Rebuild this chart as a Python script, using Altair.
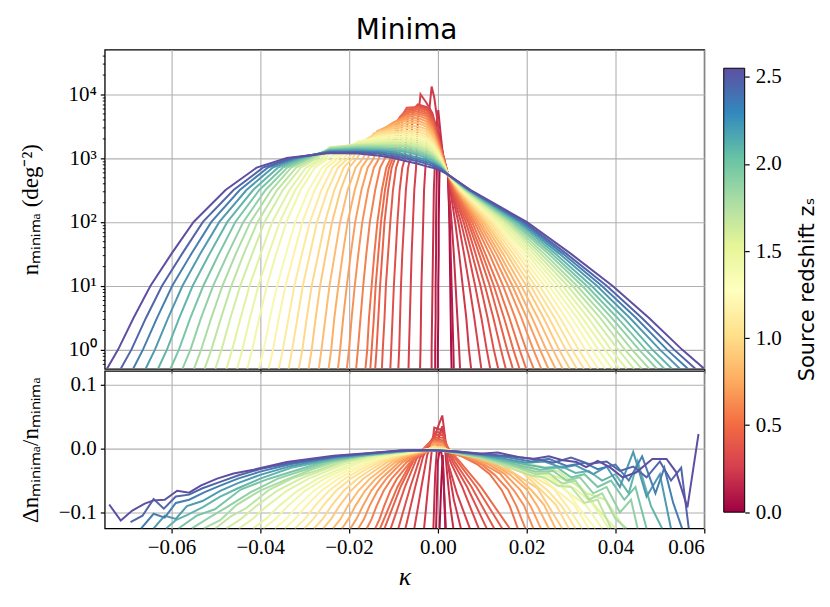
import altair as alt
import pandas as pd

# ---------------- data ----------------
# source redshift of each curve
Z = [2.55, 2.45, 2.34, 2.21, 2.08, 1.98, 1.88, 1.78, 1.69, 1.60, 1.52, 1.44, 1.37, 1.30,
     1.22, 1.14, 1.07, 1.00, 0.92, 0.85, 0.78, 0.71, 0.65, 0.58, 0.52, 0.48, 0.44, 0.40,
     0.36, 0.32, 0.28, 0.24, 0.20, 0.12, 0.05]

# top panel: log10(n) levels crossed on the rising (left) flank, and kappa of each crossing
TOP_LEFT_LEVELS = [-0.3, 0.0, 0.5, 1.0, 1.5, 2.0, 2.5, 2.85]
TOP_LEFT_K = [
    [-0.0745, -0.0720, -0.0685, -0.0647, -0.0600, -0.0550, -0.0478, -0.0408],
    [-0.0714, -0.0690, -0.0657, -0.0621, -0.0576, -0.0529, -0.0460, -0.0394],
    [-0.0686, -0.0664, -0.0632, -0.0598, -0.0555, -0.0510, -0.0446, -0.0383],
    [-0.0658, -0.0637, -0.0607, -0.0575, -0.0535, -0.0492, -0.0431, -0.0372],
    [-0.0630, -0.0610, -0.0582, -0.0552, -0.0514, -0.0474, -0.0416, -0.0360],
    [-0.0602, -0.0583, -0.0557, -0.0528, -0.0493, -0.0456, -0.0402, -0.0349],
    [-0.0575, -0.0557, -0.0533, -0.0506, -0.0473, -0.0438, -0.0388, -0.0339],
    [-0.0549, -0.0533, -0.0510, -0.0485, -0.0455, -0.0422, -0.0375, -0.0330],
    [-0.0525, -0.0510, -0.0488, -0.0465, -0.0437, -0.0406, -0.0362, -0.0319],
    [-0.0501, -0.0487, -0.0467, -0.0445, -0.0418, -0.0390, -0.0349, -0.0309],
    [-0.0476, -0.0463, -0.0444, -0.0424, -0.0399, -0.0373, -0.0334, -0.0297],
    [-0.0452, -0.0440, -0.0423, -0.0404, -0.0381, -0.0356, -0.0321, -0.0287],
    [-0.0429, -0.0418, -0.0402, -0.0385, -0.0364, -0.0341, -0.0309, -0.0277],
    [-0.0403, -0.0392, -0.0378, -0.0362, -0.0342, -0.0321, -0.0291, -0.0261],
    [-0.0381, -0.0371, -0.0358, -0.0343, -0.0324, -0.0305, -0.0277, -0.0250],
    [-0.0358, -0.0349, -0.0336, -0.0323, -0.0306, -0.0288, -0.0262, -0.0237],
    [-0.0336, -0.0328, -0.0316, -0.0304, -0.0288, -0.0272, -0.0248, -0.0225],
    [-0.0313, -0.0305, -0.0295, -0.0284, -0.0269, -0.0254, -0.0233, -0.0212],
    [-0.0291, -0.0284, -0.0275, -0.0265, -0.0252, -0.0238, -0.0219, -0.0200],
    [-0.0268, -0.0262, -0.0253, -0.0244, -0.0232, -0.0220, -0.0203, -0.0185],
    [-0.0246, -0.0240, -0.0233, -0.0224, -0.0214, -0.0203, -0.0187, -0.0172],
    [-0.0225, -0.0220, -0.0213, -0.0205, -0.0196, -0.0186, -0.0172, -0.0158],
    [-0.0205, -0.0200, -0.0194, -0.0187, -0.0179, -0.0170, -0.0157, -0.0144],
    [-0.0184, -0.0180, -0.0174, -0.0168, -0.0161, -0.0153, -0.0141, -0.0130],
    [-0.0163, -0.0159, -0.0155, -0.0149, -0.0143, -0.0136, -0.0126, -0.0116],
    [-0.0152, -0.0149, -0.0144, -0.0140, -0.0134, -0.0128, -0.0119, -0.0110],
    [-0.0141, -0.0138, -0.0134, -0.0130, -0.0125, -0.0120, -0.0112, -0.0104],
    [-0.0126, -0.0124, -0.0120, -0.0117, -0.0112, -0.0107, -0.0101, -0.0094],
    [-0.0107, -0.0105, -0.0102, -0.0099, -0.0095, -0.0091, -0.0086, -0.0080],
    [-0.0089, -0.0087, -0.0085, -0.0083, -0.0080, -0.0076, -0.0072, -0.0067],
    [-0.0066, -0.0065, -0.0063, -0.0061, -0.0059, -0.0056, -0.0053, -0.0049],
    [-0.0040, -0.0039, -0.0038, -0.0037, -0.0035, -0.0033, -0.0031, -0.0028],
    [-0.0014, -0.0014, -0.0013, -0.0012, -0.0011, -0.0010, -0.0009, -0.0007],
    [-0.0006, -0.0006, -0.0005, -0.0005, -0.0004, -0.0004, -0.0003, -0.0002],
    [0.0000, 0.0000, 0.0001, 0.0001, 0.0002, 0.0002, 0.0003, 0.0004],
]

# top panel: upper part of each curve (kappa, log10 n), ending at the common crossing point
TOP_UP_K = [
    [-0.0340, -0.0243, -0.0180, -0.0135, -0.0100, -0.0070, -0.0045, -0.0025, -0.0012, 0.0004, 0.0023],
    [-0.0329, -0.0243, -0.0180, -0.0135, -0.0100, -0.0070, -0.0045, -0.0025, -0.0012, 0.0004, 0.0023],
    [-0.0322, -0.0243, -0.0180, -0.0135, -0.0100, -0.0070, -0.0045, -0.0025, -0.0012, 0.0004, 0.0023],
    [-0.0314, -0.0243, -0.0180, -0.0135, -0.0100, -0.0070, -0.0045, -0.0025, -0.0012, 0.0004, 0.0023],
    [-0.0306, -0.0243, -0.0180, -0.0135, -0.0100, -0.0070, -0.0045, -0.0025, -0.0012, 0.0004, 0.0023],
    [-0.0298, -0.0243, -0.0180, -0.0135, -0.0100, -0.0070, -0.0045, -0.0025, -0.0012, 0.0004, 0.0023],
    [-0.0291, -0.0243, -0.0180, -0.0135, -0.0100, -0.0070, -0.0045, -0.0025, -0.0012, 0.0004, 0.0023],
    [-0.0286, -0.0243, -0.0180, -0.0135, -0.0100, -0.0070, -0.0045, -0.0025, -0.0012, 0.0004, 0.0023],
    [-0.0278, -0.0243, -0.0180, -0.0135, -0.0100, -0.0070, -0.0045, -0.0025, -0.0012, 0.0004, 0.0023],
    [-0.0271, -0.0243, -0.0180, -0.0135, -0.0100, -0.0070, -0.0045, -0.0025, -0.0012, 0.0004, 0.0023],
    [-0.0261, -0.0243, -0.0180, -0.0135, -0.0100, -0.0070, -0.0045, -0.0025, -0.0012, 0.0004, 0.0023],
    [-0.0254, -0.0243, -0.0180, -0.0135, -0.0100, -0.0070, -0.0045, -0.0025, -0.0012, 0.0004, 0.0023],
    [-0.0246, -0.0180, -0.0135, -0.0100, -0.0070, -0.0045, -0.0025, -0.0012, 0.0004, 0.0023],
    [-0.0232, -0.0180, -0.0135, -0.0100, -0.0070, -0.0045, -0.0025, -0.0012, 0.0004, 0.0023],
    [-0.0223, -0.0180, -0.0135, -0.0100, -0.0070, -0.0045, -0.0025, -0.0012, 0.0004, 0.0023],
    [-0.0212, -0.0180, -0.0135, -0.0100, -0.0070, -0.0045, -0.0025, -0.0012, 0.0004, 0.0023],
    [-0.0202, -0.0180, -0.0135, -0.0100, -0.0070, -0.0045, -0.0025, -0.0012, 0.0004, 0.0023],
    [-0.0192, -0.0165, -0.0135, -0.0100, -0.0070, -0.0045, -0.0025, -0.0012, 0.0004, 0.0023],
    [-0.0182, -0.0155, -0.0135, -0.0100, -0.0070, -0.0045, -0.0025, -0.0012, 0.0004, 0.0023],
    [-0.0168, -0.0145, -0.0100, -0.0070, -0.0045, -0.0025, -0.0012, 0.0004, 0.0023],
    [-0.0157, -0.0137, -0.0100, -0.0070, -0.0045, -0.0025, -0.0012, 0.0004, 0.0023],
    [-0.0144, -0.0126, -0.0100, -0.0070, -0.0045, -0.0025, -0.0012, 0.0004, 0.0023],
    [-0.0132, -0.0116, -0.0100, -0.0070, -0.0045, -0.0025, -0.0012, 0.0004, 0.0023],
    [-0.0119, -0.0105, -0.0070, -0.0045, -0.0025, -0.0012, 0.0004, 0.0023],
    [-0.0106, -0.0094, -0.0070, -0.0045, -0.0025, -0.0012, 0.0004, 0.0023],
    [-0.0101, -0.0090, -0.0070, -0.0045, -0.0025, -0.0012, 0.0004, 0.0023],
    [-0.0096, -0.0086, -0.0070, -0.0045, -0.0025, -0.0012, 0.0004, 0.0023],
    [-0.0087, -0.0079, -0.0070, -0.0045, -0.0025, -0.0012, 0.0004, 0.0023],
    [-0.0074, -0.0067, -0.0045, -0.0025, -0.0012, 0.0004, 0.0023],
    [-0.0062, -0.0056, -0.0045, -0.0025, -0.0012, 0.0004, 0.0023],
    [-0.0045, -0.0039, -0.0025, -0.0012, 0.0004, 0.0023],
    [-0.0022, -0.0014, -0.0008, 0.0004, 0.0013, 0.0023],
    [-0.0003, 0.0001, 0.0006, 0.0013, 0.0023],
    [0.0002, 0.0008, 0.0015, 0.0023],
    [0.0008, 0.0015, 0.0023],
]
TOP_UP_V = [
    [3.00, 3.08, 3.07, 3.04, 3.00, 2.95, 2.91, 2.87, 2.85, 2.81, 2.74],
    [3.00, 3.09, 3.09, 3.07, 3.03, 2.99, 2.95, 2.91, 2.88, 2.83, 2.74],
    [3.00, 3.10, 3.10, 3.09, 3.06, 3.02, 2.98, 2.94, 2.91, 2.85, 2.74],
    [3.00, 3.11, 3.12, 3.11, 3.09, 3.05, 3.01, 2.97, 2.93, 2.86, 2.74],
    [3.00, 3.12, 3.14, 3.13, 3.12, 3.09, 3.05, 3.00, 2.96, 2.88, 2.74],
    [3.00, 3.13, 3.15, 3.15, 3.14, 3.12, 3.08, 3.03, 2.98, 2.89, 2.74],
    [3.00, 3.14, 3.17, 3.17, 3.16, 3.15, 3.11, 3.06, 3.01, 2.91, 2.74],
    [3.00, 3.15, 3.18, 3.19, 3.19, 3.18, 3.14, 3.09, 3.03, 2.92, 2.74],
    [3.00, 3.16, 3.20, 3.21, 3.21, 3.20, 3.17, 3.12, 3.06, 2.94, 2.74],
    [3.00, 3.17, 3.21, 3.23, 3.24, 3.23, 3.20, 3.15, 3.08, 2.95, 2.74],
    [3.00, 3.15, 3.22, 3.25, 3.26, 3.26, 3.23, 3.18, 3.11, 2.97, 2.74],
    [3.00, 3.08, 3.24, 3.27, 3.28, 3.28, 3.26, 3.21, 3.13, 2.98, 2.74],
    [3.00, 3.25, 3.29, 3.31, 3.31, 3.29, 3.24, 3.16, 3.00, 2.74],
    [3.00, 3.26, 3.31, 3.33, 3.34, 3.32, 3.27, 3.18, 3.01, 2.74],
    [3.00, 3.25, 3.33, 3.36, 3.37, 3.35, 3.30, 3.21, 3.03, 2.74],
    [3.00, 3.22, 3.35, 3.38, 3.40, 3.38, 3.33, 3.24, 3.04, 2.74],
    [3.00, 3.17, 3.37, 3.41, 3.43, 3.42, 3.37, 3.27, 3.06, 2.74],
    [3.00, 3.28, 3.39, 3.44, 3.47, 3.46, 3.41, 3.30, 3.07, 2.74],
    [3.00, 3.32, 3.41, 3.47, 3.51, 3.50, 3.45, 3.33, 3.09, 2.74],
    [3.00, 3.38, 3.50, 3.55, 3.55, 3.49, 3.37, 3.10, 2.74],
    [3.00, 3.42, 3.53, 3.59, 3.59, 3.53, 3.40, 3.12, 2.74],
    [3.00, 3.45, 3.55, 3.62, 3.63, 3.57, 3.43, 3.13, 2.74],
    [3.00, 3.48, 3.56, 3.65, 3.67, 3.61, 3.46, 3.15, 2.74],
    [3.00, 3.52, 3.68, 3.70, 3.65, 3.49, 3.16, 2.74],
    [3.00, 3.56, 3.71, 3.73, 3.68, 3.52, 3.18, 2.74],
    [3.00, 3.60, 3.73, 3.76, 3.71, 3.55, 3.19, 2.74],
    [3.00, 3.64, 3.76, 3.79, 3.74, 3.58, 3.21, 2.74],
    [3.00, 3.68, 3.79, 3.80, 3.76, 3.60, 3.22, 2.74],
    [3.00, 3.72, 3.82, 3.78, 3.63, 3.24, 2.74],
    [3.00, 3.76, 3.84, 3.80, 3.66, 3.26, 2.74],
    [3.60, 4.00, 3.86, 3.70, 3.28, 2.74],
    [3.55, 4.12, 3.95, 3.32, 2.95, 2.74],
    [3.55, 3.75, 3.40, 2.95, 2.74],
    [3.40, 3.20, 2.90, 2.72],
    [3.05, 2.85, 2.72],
]

# top panel: log10(n) levels crossed on the falling (right) flank, and kappa of each crossing
TOP_RIGHT_LEVELS = [2.5, 2.0, 1.5, 1.0, 0.5, 0.0, -0.3]
TOP_RIGHT_K = [
    [0.0074, 0.0200, 0.0300, 0.0393, 0.0475, 0.0550, 0.0600],
    [0.0072, 0.0194, 0.0290, 0.0380, 0.0459, 0.0532, 0.0580],
    [0.0071, 0.0189, 0.0282, 0.0369, 0.0446, 0.0516, 0.0563],
    [0.0069, 0.0183, 0.0274, 0.0358, 0.0432, 0.0500, 0.0545],
    [0.0068, 0.0178, 0.0265, 0.0346, 0.0418, 0.0483, 0.0527],
    [0.0066, 0.0172, 0.0257, 0.0335, 0.0404, 0.0468, 0.0510],
    [0.0065, 0.0167, 0.0249, 0.0325, 0.0391, 0.0453, 0.0493],
    [0.0063, 0.0162, 0.0240, 0.0313, 0.0378, 0.0437, 0.0476],
    [0.0062, 0.0157, 0.0232, 0.0303, 0.0365, 0.0421, 0.0459],
    [0.0060, 0.0152, 0.0224, 0.0292, 0.0351, 0.0406, 0.0442],
    [0.0059, 0.0146, 0.0216, 0.0281, 0.0338, 0.0390, 0.0425],
    [0.0057, 0.0141, 0.0208, 0.0271, 0.0325, 0.0376, 0.0409],
    [0.0056, 0.0136, 0.0201, 0.0260, 0.0313, 0.0361, 0.0393],
    [0.0054, 0.0132, 0.0193, 0.0250, 0.0301, 0.0347, 0.0377],
    [0.0053, 0.0127, 0.0185, 0.0240, 0.0288, 0.0332, 0.0361],
    [0.0051, 0.0122, 0.0178, 0.0229, 0.0275, 0.0317, 0.0345],
    [0.0050, 0.0117, 0.0170, 0.0219, 0.0263, 0.0302, 0.0329],
    [0.0049, 0.0112, 0.0162, 0.0209, 0.0250, 0.0288, 0.0313],
    [0.0047, 0.0107, 0.0155, 0.0199, 0.0238, 0.0273, 0.0297],
    [0.0046, 0.0102, 0.0147, 0.0188, 0.0225, 0.0259, 0.0281],
    [0.0044, 0.0097, 0.0139, 0.0178, 0.0212, 0.0244, 0.0265],
    [0.0043, 0.0092, 0.0132, 0.0168, 0.0200, 0.0230, 0.0249],
    [0.0042, 0.0087, 0.0124, 0.0158, 0.0188, 0.0215, 0.0233],
    [0.0040, 0.0082, 0.0116, 0.0147, 0.0174, 0.0199, 0.0216],
    [0.0039, 0.0077, 0.0107, 0.0136, 0.0161, 0.0184, 0.0199],
    [0.0037, 0.0072, 0.0100, 0.0126, 0.0149, 0.0170, 0.0184],
    [0.0036, 0.0068, 0.0093, 0.0117, 0.0137, 0.0156, 0.0169],
    [0.0034, 0.0063, 0.0085, 0.0106, 0.0125, 0.0142, 0.0153],
    [0.0033, 0.0058, 0.0077, 0.0096, 0.0112, 0.0126, 0.0136],
    [0.0031, 0.0052, 0.0069, 0.0084, 0.0098, 0.0110, 0.0118],
    [0.0030, 0.0046, 0.0059, 0.0071, 0.0082, 0.0092, 0.0098],
    [0.0028, 0.0039, 0.0048, 0.0056, 0.0064, 0.0070, 0.0075],
    [0.0025, 0.0031, 0.0036, 0.0040, 0.0044, 0.0048, 0.0050],
    [0.0024, 0.0027, 0.0029, 0.0031, 0.0033, 0.0035, 0.0036],
    [0.0024, 0.0026, 0.0027, 0.0028, 0.0029, 0.0030, 0.0031],
]

# bottom panel: relative difference curves (kappa, value)
BOT_K = [
    [-0.0740, -0.0714, -0.0688, -0.0660, -0.0640, -0.0615, -0.0587, -0.0560, -0.0534, -0.0497, -0.0460, -0.0415,
     -0.0340, -0.0235, -0.0160, -0.0085, -0.0018, 0.0034, 0.0094, 0.0135, 0.0184, 0.0214, 0.0250, 0.0281, 0.0312,
     0.0334, 0.0360, 0.0387, 0.0416, 0.0447, 0.0483, 0.0515, 0.0537, 0.0562, 0.0587],
    [-0.0692, -0.0665, -0.0640, -0.0617, -0.0590, -0.0560, -0.0530, -0.0490, -0.0450, -0.0400, -0.0330, -0.0230,
     -0.0150, -0.0080, -0.0020, 0.0040, 0.0100, 0.0160, 0.0220, 0.0260, 0.0300, 0.0340, 0.0380, 0.0410, 0.0440,
     0.0470, 0.0500, 0.0525, 0.0548, 0.0565],
    [-0.0668, -0.0640, -0.0615, -0.0590, -0.0560, -0.0525, -0.0490, -0.0450, -0.0400, -0.0330, -0.0230, -0.0150,
     -0.0080, -0.0020, 0.0040, 0.0100, 0.0160, 0.0210, 0.0250, 0.0290, 0.0330, 0.0360, 0.0400, 0.0430, 0.0460,
     0.0490, 0.0510, 0.0530, 0.0550],
    [-0.0640, -0.0615, -0.0590, -0.0565, -0.0530, -0.0490, -0.0450, -0.0400, -0.0330, -0.0230, -0.0150, -0.0080,
     -0.0020, 0.0040, 0.0100, 0.0150, 0.0200, 0.0240, 0.0280, 0.0310, 0.0350, 0.0380, 0.0410, 0.0440, 0.0470,
     0.0500, 0.0525],
    [-0.0612, -0.0590, -0.0565, -0.0530, -0.0490, -0.0450, -0.0400, -0.0330, -0.0230, -0.0150, -0.0080, -0.0020,
     0.0040, 0.0100, 0.0150, 0.0200, 0.0240, 0.0280, 0.0310, 0.0340, 0.0370, 0.0400, 0.0430, 0.0450, 0.0480, 0.0505],
    [-0.0584, -0.0543, -0.0502, -0.0444, -0.0380, -0.0315, -0.0257, -0.0181, -0.0123, -0.0064, 0.0000, 0.0040,
     0.0100, 0.0150, 0.0190, 0.0230, 0.0270, 0.0300, 0.0330, 0.0360, 0.0390, 0.0420, 0.0445, 0.0470],
    [-0.0554, -0.0515, -0.0476, -0.0421, -0.0360, -0.0299, -0.0244, -0.0172, -0.0116, -0.0061, 0.0000, 0.0040,
     0.0100, 0.0140, 0.0180, 0.0220, 0.0260, 0.0290, 0.0320, 0.0350, 0.0380, 0.0410, 0.0435, 0.0450],
    [-0.0527, -0.0490, -0.0453, -0.0401, -0.0343, -0.0285, -0.0232, -0.0163, -0.0111, -0.0058, 0.0000, 0.0040,
     0.0090, 0.0140, 0.0180, 0.0220, 0.0250, 0.0280, 0.0310, 0.0340, 0.0370, 0.0400, 0.0425],
    [-0.0501, -0.0466, -0.0431, -0.0381, -0.0326, -0.0271, -0.0220, -0.0155, -0.0105, -0.0055, 0.0000, 0.0040,
     0.0090, 0.0130, 0.0170, 0.0210, 0.0240, 0.0270, 0.0300, 0.0330, 0.0360, 0.0390],
    [-0.0476, -0.0443, -0.0409, -0.0362, -0.0309, -0.0257, -0.0209, -0.0148, -0.0100, -0.0052, 0.0000, 0.0042,
     0.0126, 0.0210, 0.0273, 0.0336, 0.0378, 0.0420],
    [-0.0448, -0.0417, -0.0385, -0.0340, -0.0291, -0.0242, -0.0197, -0.0139, -0.0094, -0.0049, 0.0000, 0.0040,
     0.0120, 0.0200, 0.0260, 0.0320, 0.0360, 0.0400],
    [-0.0416, -0.0387, -0.0358, -0.0316, -0.0270, -0.0225, -0.0183, -0.0129, -0.0087, -0.0046, -0.0010, 0.0010,
     0.0039, 0.0116, 0.0193, 0.0250, 0.0308, 0.0347, 0.0385],
    [-0.0393, -0.0365, -0.0338, -0.0299, -0.0255, -0.0212, -0.0173, -0.0122, -0.0083, -0.0043, -0.0010, 0.0010,
     0.0037, 0.0111, 0.0185, 0.0241, 0.0296, 0.0333, 0.0370],
    [-0.0367, -0.0341, -0.0316, -0.0279, -0.0239, -0.0198, -0.0161, -0.0114, -0.0077, -0.0040, -0.0010, 0.0010,
     0.0036, 0.0107, 0.0178, 0.0231, 0.0284, 0.0320, 0.0355],
    [-0.0345, -0.0321, -0.0297, -0.0262, -0.0224, -0.0186, -0.0152, -0.0107, -0.0072, -0.0038, -0.0010, 0.0010,
     0.0034, 0.0102, 0.0170, 0.0221, 0.0272, 0.0306, 0.0340],
    [-0.0322, -0.0299, -0.0277, -0.0245, -0.0209, -0.0174, -0.0142, -0.0100, -0.0068, -0.0035, -0.0010, 0.0010,
     0.0033, 0.0098, 0.0163, 0.0211, 0.0260, 0.0293, 0.0325],
    [-0.0301, -0.0280, -0.0259, -0.0229, -0.0196, -0.0163, -0.0132, -0.0093, -0.0063, -0.0033, -0.0010, 0.0010,
     0.0031, 0.0093, 0.0155, 0.0202, 0.0248, 0.0279, 0.0310],
    [-0.0279, -0.0259, -0.0240, -0.0212, -0.0181, -0.0151, -0.0123, -0.0086, -0.0059, -0.0031, -0.0010, 0.0010,
     0.0030, 0.0089, 0.0148, 0.0192, 0.0236, 0.0266, 0.0295],
    [-0.0258, -0.0240, -0.0222, -0.0196, -0.0168, -0.0139, -0.0114, -0.0080, -0.0054, -0.0028, -0.0010, 0.0010,
     0.0028, 0.0084, 0.0140, 0.0182, 0.0224, 0.0252, 0.0280],
    [-0.0236, -0.0219, -0.0203, -0.0179, -0.0153, -0.0127, -0.0104, -0.0073, -0.0050, -0.0026, -0.0010, 0.0010,
     0.0027, 0.0080, 0.0133, 0.0172, 0.0212, 0.0239, 0.0265],
    [-0.0216, -0.0201, -0.0186, -0.0164, -0.0140, -0.0117, -0.0095, -0.0067, -0.0045, -0.0024, -0.0010, 0.0010,
     0.0025, 0.0075, 0.0125, 0.0163, 0.0200, 0.0225, 0.0250],
    [-0.0197, -0.0183, -0.0169, -0.0150, -0.0128, -0.0106, -0.0087, -0.0061, -0.0041, -0.0022, -0.0010, 0.0010,
     0.0023, 0.0070, 0.0116, 0.0151, 0.0186, 0.0209, 0.0232],
    [-0.0179, -0.0166, -0.0154, -0.0136, -0.0116, -0.0097, -0.0079, -0.0055, -0.0038, -0.0020, -0.0010, 0.0010,
     0.0022, 0.0065, 0.0108, 0.0140, 0.0172, 0.0194, 0.0215],
    [-0.0160, -0.0149, -0.0138, -0.0122, -0.0104, -0.0086, -0.0070, -0.0050, -0.0034, -0.0018, -0.0008, 0.0010,
     0.0020, 0.0059, 0.0099, 0.0128, 0.0158, 0.0177, 0.0197],
    [-0.0141, -0.0131, -0.0121, -0.0107, -0.0092, -0.0076, -0.0062, -0.0044, -0.0030, -0.0016, -0.0007, 0.0010,
     0.0018, 0.0054, 0.0090, 0.0117, 0.0144, 0.0162, 0.0180],
    [-0.0130, -0.0091, -0.0059, -0.0026, -0.0005, 0.0012, 0.0049, 0.0097, 0.0162],
    [-0.0120, -0.0084, -0.0054, -0.0024, -0.0005, 0.0012, 0.0044, 0.0087, 0.0145],
    [-0.0106, -0.0074, -0.0048, -0.0021, -0.0005, 0.0012, 0.0038, 0.0076, 0.0127],
    [-0.0089, -0.0062, -0.0040, -0.0018, -0.0005, 0.0012, 0.0033, 0.0066, 0.0110],
    [-0.0073, -0.0051, -0.0033, -0.0015, -0.0005, 0.0012, 0.0028, 0.0055, 0.0092],
    [-0.0053, -0.0037, -0.0024, -0.0011, -0.0008, 0.0005, 0.0012, 0.0022, 0.0043, 0.0072],
    [-0.0031, -0.0022, -0.0014, -0.0006, -0.0002, 0.0010, 0.0016, 0.0024, 0.0036, 0.0052],
    [-0.0010, -0.0006, -0.0002, 0.0003, 0.0010, 0.0015, 0.0021, 0.0028, 0.0035],
    [-0.0004, 0.0000, 0.0006, 0.0012, 0.0018],
    [0.0004, 0.0008, 0.0011, 0.0014, 0.0017],
]
BOT_R = [
    [-0.0875, -0.1125, -0.097, -0.086, -0.081, -0.080, -0.066, -0.069, -0.058, -0.047, -0.039, -0.033,
     -0.021, -0.011, -0.007, -0.003, -0.002, -0.004, -0.008, -0.006, -0.0135, -0.016, -0.012, -0.018, -0.021,
     -0.029, -0.019, -0.029, -0.045, -0.037, -0.016, -0.016, -0.037, -0.092, 0.023],
    [-0.115, -0.105, -0.079, -0.094, -0.075, -0.072, -0.062, -0.052, -0.042, -0.032, -0.022, -0.012,
     -0.007, -0.003, -0.002, -0.004, -0.008, -0.012, -0.016, -0.022, -0.014, -0.024, -0.020, -0.035, -0.028,
     -0.045, -0.020, -0.050, -0.030, -0.125],
    [-0.125, -0.102, -0.108, -0.085, -0.080, -0.068, -0.058, -0.047, -0.036, -0.024, -0.013, -0.007,
     -0.003, -0.002, -0.005, -0.009, -0.014, -0.020, -0.016, -0.027, -0.022, -0.032, -0.025, -0.050, -0.012,
     -0.070, -0.030, -0.085, -0.125],
    [-0.125, -0.105, -0.110, -0.090, -0.082, -0.066, -0.054, -0.041, -0.027, -0.014, -0.008, -0.004,
     -0.002, -0.005, -0.010, -0.016, -0.022, -0.020, -0.030, -0.026, -0.040, -0.028, -0.060, -0.005, -0.075,
     -0.040, -0.125],
    [-0.125, -0.112, -0.104, -0.092, -0.075, -0.062, -0.047, -0.030, -0.016, -0.009, -0.004, -0.002,
     -0.005, -0.011, -0.018, -0.025, -0.030, -0.028, -0.038, -0.035, -0.050, -0.040, -0.070, -0.020, -0.090, -0.125],
    [-0.125, -0.105, -0.095, -0.064, -0.047, -0.033, -0.021, -0.011, -0.007, -0.003, -0.002, -0.006,
     -0.012, -0.020, -0.027, -0.033, -0.030, -0.045, -0.040, -0.060, -0.050, -0.080, -0.060, -0.125],
    [-0.125, -0.108, -0.092, -0.068, -0.047, -0.033, -0.021, -0.011, -0.007, -0.003, -0.002, -0.006,
     -0.013, -0.020, -0.028, -0.036, -0.035, -0.050, -0.045, -0.070, -0.060, -0.100, -0.080, -0.125],
    [-0.125, -0.112, -0.088, -0.066, -0.049, -0.033, -0.021, -0.011, -0.007, -0.003, -0.002, -0.006,
     -0.013, -0.022, -0.030, -0.040, -0.038, -0.055, -0.050, -0.080, -0.070, -0.110, -0.125],
    [-0.125, -0.106, -0.093, -0.065, -0.046, -0.034, -0.021, -0.011, -0.007, -0.003, -0.002, -0.007,
     -0.014, -0.022, -0.032, -0.042, -0.045, -0.058, -0.060, -0.085, -0.080, -0.125],
    [-0.125, -0.110, -0.090, -0.066, -0.047, -0.033, -0.021, -0.011, -0.007, -0.003, -0.002, -0.004,
     -0.013, -0.024, -0.036, -0.070, -0.080, -0.125],
    [-0.125, -0.110, -0.090, -0.066, -0.047, -0.033, -0.021, -0.011, -0.007, -0.003, -0.002, -0.004,
     -0.011, -0.027, -0.042, -0.058, -0.095, -0.125],
    [-0.125, -0.110, -0.090, -0.066, -0.047, -0.033, -0.021, -0.011, -0.007, -0.003, 0.000, -0.001,
     -0.004, -0.013, -0.023, -0.044, -0.062, -0.085, -0.125],
    [-0.125, -0.110, -0.090, -0.066, -0.047, -0.033, -0.021, -0.011, -0.007, -0.003, 0.000, -0.001,
     -0.004, -0.012, -0.026, -0.038, -0.070, -0.088, -0.125],
    [-0.125, -0.110, -0.090, -0.066, -0.047, -0.033, -0.021, -0.011, -0.007, -0.003, 0.000, -0.001,
     -0.004, -0.012, -0.025, -0.042, -0.060, -0.095, -0.125],
    [-0.125, -0.110, -0.090, -0.066, -0.047, -0.033, -0.021, -0.011, -0.007, -0.003, 0.000, -0.001,
     -0.004, -0.012, -0.027, -0.038, -0.068, -0.087, -0.125],
    [-0.125, -0.110, -0.090, -0.066, -0.047, -0.033, -0.021, -0.011, -0.007, -0.003, 0.000, -0.001,
     -0.004, -0.012, -0.025, -0.042, -0.062, -0.092, -0.125],
    [-0.125, -0.110, -0.090, -0.066, -0.047, -0.033, -0.021, -0.011, -0.007, -0.003, 0.000, -0.001,
     -0.004, -0.012, -0.024, -0.040, -0.066, -0.090, -0.125],
    [-0.125, -0.110, -0.090, -0.066, -0.047, -0.033, -0.021, -0.011, -0.007, -0.003, 0.003, 0.002,
     -0.004, -0.013, -0.026, -0.038, -0.067, -0.088, -0.125],
    [-0.125, -0.110, -0.090, -0.066, -0.047, -0.033, -0.021, -0.011, -0.007, -0.003, 0.003, 0.002,
     -0.004, -0.012, -0.024, -0.043, -0.062, -0.093, -0.125],
    [-0.125, -0.110, -0.090, -0.066, -0.047, -0.033, -0.021, -0.011, -0.007, -0.003, 0.003, 0.002,
     -0.004, -0.012, -0.026, -0.040, -0.066, -0.088, -0.125],
    [-0.125, -0.110, -0.090, -0.066, -0.047, -0.033, -0.021, -0.011, -0.007, -0.003, 0.004, 0.003,
     -0.004, -0.013, -0.025, -0.041, -0.064, -0.091, -0.125],
    [-0.125, -0.110, -0.090, -0.066, -0.047, -0.033, -0.021, -0.011, -0.007, -0.003, 0.008, 0.006,
     -0.004, -0.012, -0.025, -0.040, -0.065, -0.090, -0.125],
    [-0.125, -0.110, -0.090, -0.066, -0.047, -0.033, -0.021, -0.011, -0.007, -0.003, 0.010, 0.008,
     -0.004, -0.012, -0.026, -0.039, -0.066, -0.089, -0.125],
    [-0.125, -0.110, -0.090, -0.066, -0.047, -0.033, -0.021, -0.011, -0.007, -0.003, 0.011, 0.009,
     -0.004, -0.013, -0.025, -0.041, -0.064, -0.090, -0.125],
    [-0.125, -0.110, -0.090, -0.066, -0.047, -0.033, -0.021, -0.011, -0.007, -0.003, 0.013, 0.010,
     -0.004, -0.012, -0.025, -0.040, -0.065, -0.090, -0.125],
    [-0.125, -0.060, -0.020, 0.004, 0.012, 0.010, -0.020, -0.060, -0.125],
    [-0.125, -0.060, -0.018, 0.006, 0.015, 0.013, -0.020, -0.060, -0.125],
    [-0.125, -0.060, -0.016, 0.008, 0.018, 0.017, -0.020, -0.060, -0.125],
    [-0.125, -0.060, -0.014, 0.010, 0.022, 0.021, -0.020, -0.060, -0.125],
    [-0.125, -0.060, -0.012, 0.012, 0.026, 0.025, -0.020, -0.060, -0.125],
    [-0.125, -0.060, -0.010, 0.016, 0.033, 0.030, 0.033, -0.020, -0.070, -0.125],
    [-0.125, -0.060, -0.005, 0.020, 0.030, 0.052, 0.020, -0.030, -0.080, -0.125],
    [-0.125, -0.040, 0.000, 0.020, 0.035, 0.010, -0.040, -0.090, -0.125],
    [-0.125, -0.020, 0.005, -0.030, -0.125],
    [-0.125, -0.050, -0.010, -0.070, -0.125],
]

# axes / colour bar
X_TICKS = [-0.06, -0.04, -0.02, 0.0, 0.02, 0.04, 0.06]
Y_TOP_TICKS = [1, 10, 100, 1000, 10000]
Y_TOP_MINOR = [0.6, 0.7, 0.8, 0.9, 2, 3, 4, 5, 6, 7, 8, 9, 20, 30, 40, 50, 60, 70, 80, 90,
               200, 300, 400, 500, 600, 700, 800, 900, 2000, 3000, 4000, 5000, 6000, 7000, 8000, 9000,
               20000, 30000, 40000]
Y_BOT_TICKS = [-0.1, 0.0, 0.1]
CB_TICKS = [0.0, 0.5, 1.0, 1.5, 2.0, 2.5]
CB_RANGE = [0.0, 2.55]
SPECTRAL = ["#9e0142", "#d53e4f", "#f46d43", "#fdae61", "#fee08b", "#ffffbf",
            "#e6f598", "#abdda4", "#66c2a5", "#3288bd", "#5e4fa2"]

# ---------------- build tables ----------------
top_rows, bot_rows = [], []
for i, z in enumerate(Z):
    ks = TOP_LEFT_K[i] + TOP_UP_K[i] + TOP_RIGHT_K[i]
    vs = TOP_LEFT_LEVELS + TOP_UP_V[i] + TOP_RIGHT_LEVELS
    if len(ks) != len(vs):
        raise ValueError(f"top curve {i}: {len(ks)} vs {len(vs)}")
    for j, (k, v) in enumerate(zip(ks, vs)):
        top_rows.append({"cid": i, "z": z, "kappa": k, "logn": v, "pt": j})
    if len(BOT_K[i]) != len(BOT_R[i]):
        raise ValueError(f"bottom curve {i}: {len(BOT_K[i])} vs {len(BOT_R[i])}")
    for j, (k, r) in enumerate(zip(BOT_K[i], BOT_R[i])):
        bot_rows.append({"cid": i, "z": z, "kappa": k, "dn": r, "pt": j})

top_df = pd.DataFrame(top_rows).sort_values(["z", "pt"]).reset_index(drop=True)
bot_df = pd.DataFrame(bot_rows).sort_values(["z", "pt"]).reset_index(drop=True)
cb_df = pd.DataFrame({"lo": [CB_RANGE[0]], "hi": [CB_RANGE[1]]})

SERIF = "Liberation Serif"
SANS = "DejaVu Sans"
W = 601
x_scale = alt.Scale(domain=[-0.075, 0.06], nice=False, zero=False)
y_top_scale = alt.Scale(type="log", domain=[0.5, 50000], nice=False)
c_scale = alt.Scale(scheme="spectral", domain=CB_RANGE)

sup = "['⁰','¹','²','³','⁴'][round(log(datum.value)/LN10)]"

top_base = alt.Chart(top_df).transform_calculate(n="pow(10, datum.logn)")

top_lines = top_base.mark_line(clip=True, strokeWidth=2).encode(
    x=alt.X("kappa:Q", scale=x_scale,
            axis=alt.Axis(values=X_TICKS, labels=False, title=None, tickSize=4.5, grid=True)),
    y=alt.Y("n:Q", scale=y_top_scale,
            axis=alt.Axis(values=Y_TOP_TICKS, labelExpr="'10' + " + sup,
                          title="nₘᵢₙᵢₘₐ (deg⁻²)", titleX=-74, titleBaseline="middle",
                          titleFontSize=23, tickSize=4.5, grid=True)),
    color=alt.Color("z:Q", scale=c_scale, legend=None),
    detail="cid:N",
    order=alt.Order("pt:Q"),
)
top_minor = top_base.mark_line(clip=True, strokeOpacity=0).encode(
    x=alt.X("kappa:Q", scale=x_scale),
    y=alt.Y("n:Q", scale=y_top_scale,
            axis=alt.Axis(orient="left", values=Y_TOP_MINOR, labels=False, title=None,
                          tickSize=2.5, tickWidth=0.9, grid=False)),
    detail="cid:N",
    order=alt.Order("pt:Q"),
)
top = alt.layer(top_lines, top_minor).resolve_axis(y="independent").properties(width=W, height=320)

bottom = alt.Chart(bot_df).mark_line(clip=True, strokeWidth=2).encode(
    x=alt.X("kappa:Q", scale=x_scale,
            axis=alt.Axis(values=X_TICKS, format=".2f", title="κ", titleFontStyle="italic",
                          titleFontSize=26, titlePadding=6, tickSize=4.5, grid=True)),
    y=alt.Y("dn:Q", scale=alt.Scale(domain=[-0.125, 0.122], nice=False, zero=False),
            axis=alt.Axis(values=Y_BOT_TICKS, format=".1f", title="Δnₘᵢₙᵢₘₐ/nₘᵢₙᵢₘₐ",
                          titleX=-74, titleBaseline="middle", titleFontSize=23,
                          tickSize=4.5, grid=True)),
    color=alt.Color("z:Q", scale=c_scale, legend=None),
    detail="cid:N",
    order=alt.Order("pt:Q"),
).properties(width=W, height=158)

grad = alt.LinearGradient(
    gradient="linear", x1=0, x2=0, y1=1, y2=0,
    stops=[alt.GradientStop(color=c, offset=i / (len(SPECTRAL) - 1)) for i, c in enumerate(SPECTRAL)],
)
cbar = alt.Chart(cb_df).mark_rect(fill=grad, stroke="black", strokeWidth=1).encode(
    y=alt.Y("lo:Q", scale=alt.Scale(domain=[-0.0934, 2.657], nice=False, zero=False),
            axis=alt.Axis(orient="right", values=CB_TICKS, format=".1f", grid=False, domain=False,
                          tickSize=4.5, labelPadding=6, title="Source redshift zₛ",
                          titleFont=SANS, titleFontSize=21, titleAngle=270,
                          titleBaseline="top", titlePadding=15)),
    y2="hi:Q",
).properties(width=21, height=480, view=alt.ViewBackground(stroke="transparent"))

left = alt.vconcat(top, bottom, spacing=2, bounds="flush")
chart = alt.hconcat(left, cbar, spacing=15.5).properties(
    padding={"left": 11, "top": 8, "right": 4, "bottom": 5},
    title=alt.TitleParams("Minima", font=SANS, fontSize=28, fontWeight="normal",
                          anchor="middle", dx=-12, offset=4, color="black"),
).configure_view(
    stroke="black", strokeWidth=1.3
).configure_axis(
    labelFont=SERIF, labelFontSize=21, labelColor="black", labelPadding=4,
    titleFont=SERIF, titleFontSize=22, titleFontWeight="normal", titleColor="black",
    tickColor="black", tickWidth=1.2, domain=False,
    gridColor="#b0b0b0", gridWidth=1.1,
)

chart.save("out.html", embed_options={"renderer": "svg", "actions": False})
